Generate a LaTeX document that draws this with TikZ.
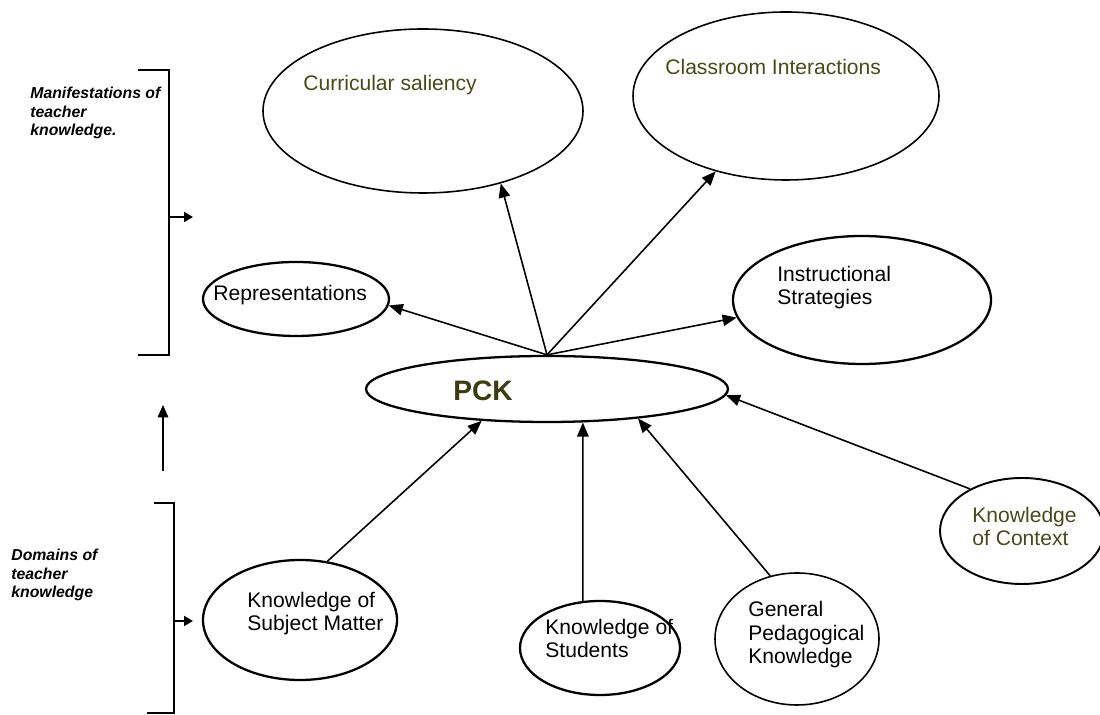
\documentclass[tikz,border=0pt]{standalone}
\usepackage{fontspec}
\setmainfont{Liberation Sans}
\usetikzlibrary{shapes.geometric,arrows.meta}
\definecolor{olivetext}{HTML}{4A4A18}
\definecolor{pcktext}{HTML}{3C3C0C}
\tikzset{
  bub/.style={ellipse,draw,line width=1.3pt,inner sep=0pt},
  thinbub/.style={bub,line width=0.9pt},
  lbl/.style={anchor=base west,inner sep=0pt,align=left,font=\fontsize{12}{13.6}\selectfont},
  side/.style={anchor=base west,inner sep=0pt,align=left,font=\fontsize{9}{10.8}\selectfont\bfseries\itshape},
  arr/.style={line width=0.9pt,-{Triangle[length=8pt,width=6.5pt]}},
  brk/.style={line width=1.5pt}
}
\begin{document}
\begin{tikzpicture}
  \useasboundingbox (0,0) rectangle (22,14.3);
  % outer ring
  \node[thinbub,minimum width=6.4cm,minimum height=3.28cm] (cur) at (8.46,12.08) {};
  \node[thinbub,minimum width=6.12cm,minimum height=3.36cm] (cls) at (15.72,12.38) {};
  \node[bub,minimum width=3.72cm,minimum height=1.48cm] (rep) at (5.92,8.32) {};
  \node[bub,minimum width=5.16cm,minimum height=2.56cm] (ins) at (17.24,8.3) {};
  \node[bub,minimum width=7.24cm,minimum height=1.32cm] (pck) at (10.94,6.52) {};
  \node[bub,minimum width=3.88cm,minimum height=2.4cm] (sub) at (6,1.9) {};
  \node[bub,minimum width=3.2cm,minimum height=1.88cm] (stu) at (12,1.34) {};
  \node[thinbub,minimum width=3.28cm,minimum height=2.64cm] (gen) at (15.94,1.52) {};
  \node[bub,line width=1.1pt,minimum width=3.28cm,minimum height=2.12cm] (ctx) at (20.44,3.68) {};
  % texts (multi-line ones sit on their last line)
  \node[lbl,text=olivetext] (curtxt) at (6.06,12.48) {Curricular saliency};
  \node[lbl,text=olivetext] (clstxt) at (13.3,12.8) {Classroom Interactions};
  \node[lbl] (reptxt) at (4.26,8.28) {Representations};
  \node[lbl] (instxt) at (15.54,8.2) {Instructional\\Strategies};
  \node[lbl,text=pcktext,font=\fontsize{16}{18}\selectfont\bfseries] (pcktxt) at (9.06,6.28) {PCK};
  \node[lbl] (subtxt) at (4.94,1.68) {Knowledge of\\Subject Matter};
  \node[lbl] (stutxt) at (10.9,1.14) {Knowledge of\\Students};
  \node[lbl] (gentxt) at (14.96,1.02) {General\\Pedagogical\\Knowledge};
  \node[lbl,text=olivetext] (ctxtxt) at (19.44,3.38) {Knowledge\\of Context};
  \node[side] (mantxt) at (0.6,11.58) {Manifestations of\\teacher\\knowledge.};
  \node[side] (domtxt) at (0.22,2.34) {Domains of\\teacher\\knowledge};
  % arrows out of PCK
  \draw[arr] (pck.north) -- (rep.-4);
  \draw[arr] (pck.north) -- (cur.-43);
  \draw[arr] (pck.north) -- (cls.-133);
  \draw[arr] (pck.north) -- (ins.188);
  % arrows into PCK
  \draw[arr] (sub.65) -- (pck.206);
  \draw[arr] (stu.110) -- (pck.-43);
  \draw[arr] (gen.113) -- (pck.-18);
  \draw[arr] (ctx.141) -- (pck.-2);
  % brackets
  \draw[brk] (2.76,12.9) -- (3.38,12.9) -- (3.38,7.2) -- (2.76,7.2);
  \draw[brk] (3.08,4.24) -- (3.48,4.24) -- (3.48,0.04) -- (2.94,0.04);
  \coordinate (upmid) at (3.38,9.96);
  \coordinate (upend) at (3.86,9.96);
  \coordinate (lowmid) at (3.48,1.88);
  \coordinate (lowend) at (3.86,1.88);
  \coordinate (upfrom) at (3.26,4.88);
  \coordinate (upto) at (3.26,6.2);
  \draw[line width=1.3pt,-{Triangle[length=5pt,width=5.5pt]}] (upmid) -- (upend);
  \draw[line width=1.3pt,-{Triangle[length=5pt,width=5.5pt]}] (lowmid) -- (lowend);
  \draw[line width=0.7pt,-{Triangle[length=7pt,width=6pt]}] (upfrom) -- (upto);
\end{tikzpicture}
\end{document}
